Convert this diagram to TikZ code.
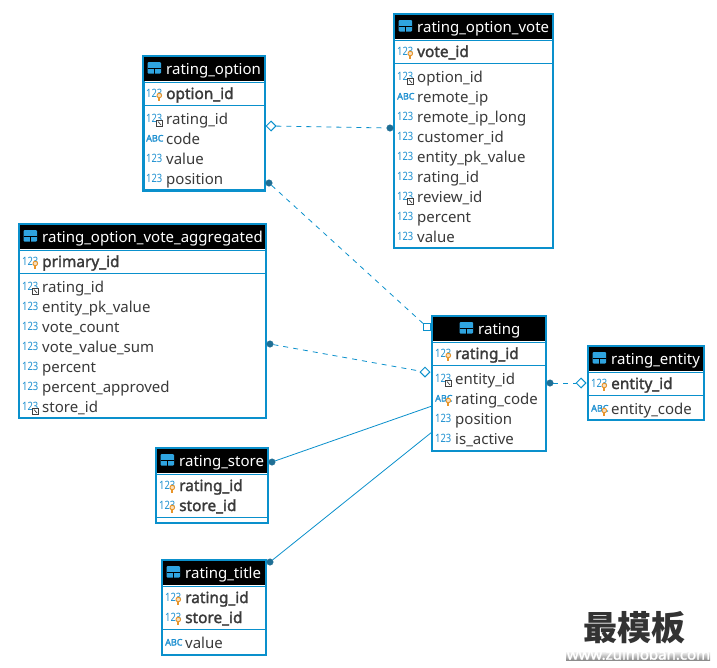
\documentclass[tikz,border=0pt]{standalone}
\usepackage{fontspec}
\setmainfont{Noto Sans}[BoldFont={Noto Sans},BoldFeatures={FakeBold=1.8}]
\newfontfamily\cjkfont{Noto Sans CJK SC}
\usetikzlibrary{shapes.geometric}
\definecolor{erblue}{HTML}{0A90CC}
\definecolor{ericon}{HTML}{1C8FD0}
\definecolor{ertext}{HTML}{3A3A3A}
\definecolor{erkey}{HTML}{E8952A}
\definecolor{erhead}{HTML}{2FA4E0}
\definecolor{erdot}{HTML}{1F6E94}
\newcount\rowno
\tikzset{
  tablebox/.style={draw=erblue,line width=2.4pt,fill=white,rectangle,inner sep=0pt,outer sep=0pt},
  headbox/.style={fill=black,inner sep=0pt,outer sep=0pt,rectangle},
  headtext/.style={text=white,inner sep=0pt,font=\fontsize{15}{17}\selectfont,anchor=base west},
  rowtext/.style={text=ertext,inner sep=0pt,font=\fontsize{15}{17}\selectfont,anchor=base west},
  keytext/.style={rowtext,font=\fontsize{15.4}{17}\selectfont\bfseries},
  numicon/.style={text=ericon,inner sep=0pt,font=\fontsize{11.5}{13}\selectfont,anchor=base west,xscale=0.82,transform shape},
  abcicon/.style={text=ericon,inner sep=0pt,font=\fontsize{9}{11}\selectfont\bfseries,anchor=base west},
  conn/.style={draw=erblue,line width=0.8pt},
  dashconn/.style={conn,dash pattern=on 5pt off 5pt},
  dotend/.style={circle,fill=erdot,draw=erdot,inner sep=0pt,minimum size=6.5pt},
  diaend/.style={diamond,draw=erblue,fill=white,line width=1pt,inner sep=0pt,minimum size=10pt},
  sqend/.style={rectangle,draw=erblue,fill=white,line width=1pt,inner sep=0pt,minimum size=7pt},
  bulb/.style={fill=erkey!30,draw=erkey,line width=0.9pt},
}
% table: name, x1, y1, x2, y2, header bottom, sep y, title, title x
\newcommand{\ertable}[9]{%
  \node[tablebox,minimum width={#4pt-#2pt},minimum height={#5pt-#3pt},anchor=north west] (#1) at (#2,#3) {};
  \node[headbox,minimum width={#4pt-#2pt-1.2pt},minimum height={#6pt-#3pt-1.2pt},anchor=north west] (#1-head) at (#2+0.6,#3+0.6) {};
  \node[headtext] (#1-title) at (#9,#3+18) {#8};
  \fill[erhead,rounded corners=1pt] (#9-18.5,#3+6) rectangle (#9-5,#3+17.5);
  \draw[black,line width=0.8pt] (#9-18.5,#3+12) -- (#9-5,#3+12) (#9-11.7,#3+12) -- (#9-11.7,#3+17.5);
  \draw[erblue,line width=0.8pt] (#2,#6) -- (#4,#6);
  \draw[erblue,line width=0.8pt] (#2,#7) -- (#4,#7);
}
\newcommand{\keybulb}[2]{%
  \fill[erkey] (#1-1,#2+3) rectangle (#1+1,#2+6.5);
  \draw[bulb] (#1,#2+1.5) circle (2.3pt);
}
\newcommand{\fkmark}[2]{%
  \draw[black!75,fill=white,line width=0.8pt] (#1-3.3,#2+1) rectangle (#1+3.3,#2+7.7);
  \draw[black!75,line width=0.7pt] (#1-1.3,#2+2.5) -- (#1+1.7,#2+6);
}
% type (n/a), mark (k/f/-), text x, y centre, text, style
\newcommand{\rowitem}[6]{%
  \global\advance\rowno by 1
  \if#1n\node[numicon] (icon\the\rowno) at (#3-20,#4+3) {123};%
  \else\node[abcicon] (icon\the\rowno) at (#3-20,#4+2.5) {ABC};\fi
  \if#2k\keybulb{#3-6.7}{#4}\fi
  \if#2f\fkmark{#3-6.7}{#4}\fi
  \node[#6] (row\the\rowno) at (#3,#4+5) {#5};
}
\newcommand{\plain}[5]{\rowitem{#1}{#2}{#3}{#4}{#5}{rowtext}}
\newcommand{\keyrow}[5]{\rowitem{#1}{#2}{#3}{#4}{#5}{keytext}}
\begin{document}
\begin{tikzpicture}[x=1pt,y=-1pt]
\useasboundingbox (0,0) rectangle (717,667);
\fill[white] (0,0) rectangle (717,667);

\ertable{vote}{394}{14}{553}{248}{40}{63}{rating\_option\_vote}{417}
\keyrow{n}{k}{417}{52}{vote\_id}
\plain{n}{f}{417}{77}{option\_id}
\plain{a}{-}{417}{97}{remote\_ip}
\plain{n}{-}{417}{117}{remote\_ip\_long}
\plain{n}{-}{417}{137}{customer\_id}
\plain{n}{-}{417}{157}{entity\_pk\_value}
\plain{n}{-}{417}{177}{rating\_id}
\plain{n}{f}{417}{197}{review\_id}
\plain{n}{-}{417}{217}{percent}
\plain{n}{-}{417}{237}{value}

\ertable{option}{143.5}{56}{265}{190.5}{82}{105}{rating\_option}{166}
\keyrow{n}{k}{166}{94}{option\_id}
\plain{n}{f}{166}{119}{rating\_id}
\plain{a}{-}{166}{139}{code}
\plain{n}{-}{166}{159}{value}
\plain{n}{-}{166}{179}{position}

\ertable{agg}{19}{224}{266}{418}{250}{273}{rating\_option\_vote\_aggregated}{42}
\keyrow{n}{k}{42}{262}{primary\_id}
\plain{n}{f}{42}{287}{rating\_id}
\plain{n}{-}{42}{307}{entity\_pk\_value}
\plain{n}{-}{42}{327}{vote\_count}
\plain{n}{-}{42}{347}{vote\_value\_sum}
\plain{n}{-}{42}{367}{percent}
\plain{n}{-}{42}{387}{percent\_approved}
\plain{n}{f}{42}{407}{store\_id}

\ertable{rating}{432}{316}{546}{451}{342}{365}{rating}{478}
\keyrow{n}{k}{455}{354}{rating\_id}
\plain{n}{f}{455}{379}{entity\_id}
\plain{a}{k}{455}{399}{rating\_code}
\plain{n}{-}{455}{419}{position}
\plain{n}{-}{455}{439}{is\_active}

\ertable{entity}{588}{346}{704}{420}{372}{395}{rating\_entity}{611}
\keyrow{n}{k}{611}{384}{entity\_id}
\plain{a}{k}{611}{409}{entity\_code}

\ertable{store}{156}{448}{268}{523}{474}{517}{rating\_store}{179}
\keyrow{n}{k}{179}{486}{rating\_id}
\keyrow{n}{k}{179}{506}{store\_id}

\ertable{title}{162}{560}{266}{655}{586}{629}{rating\_title}{185}
\keyrow{n}{k}{185}{598}{rating\_id}
\keyrow{n}{k}{185}{618}{store\_id}
\plain{a}{-}{185}{643}{value}

% connector ends
\node[diaend] (d1) at (271,126) {};
\node[dotend] (p1) at (390,128) {};
\node[dotend] (p2) at (269,183) {};
\node[sqend] (s2) at (427,327) {};
\node[dotend] (p3) at (270,344) {};
\node[diaend] (d3) at (425,372) {};
\node[dotend] (p4) at (550,383) {};
\node[diaend] (d4) at (581,383) {};
\node[dotend] (p5) at (272,462) {};
\coordinate (c5) at (432,406);
\node[dotend] (p6) at (270,562) {};
\coordinate (c6) at (432,432);

\draw[dashconn] (d1) -- (p1);
\draw[dashconn] (p2) -- (s2);
\draw[dashconn] (p3) -- (d3);
\draw[dashconn] (p4) -- (d4);
\draw[conn] (p5) -- (c5);
\draw[conn] (p6) -- (c6);

% watermark
\node[inner sep=0pt,text=black!80] (mark) at (634,628) {\cjkfont\bfseries\fontsize{34}{36}\selectfont 最模板};
\shade[top color=white,bottom color=black!45] (566,651) rectangle (710,660);
\node[inner sep=0pt,text=white,font=\fontsize{15}{17}\selectfont\bfseries] (web) at (638.5,654) {www.zuimoban.com};
\end{tikzpicture}
\end{document}
